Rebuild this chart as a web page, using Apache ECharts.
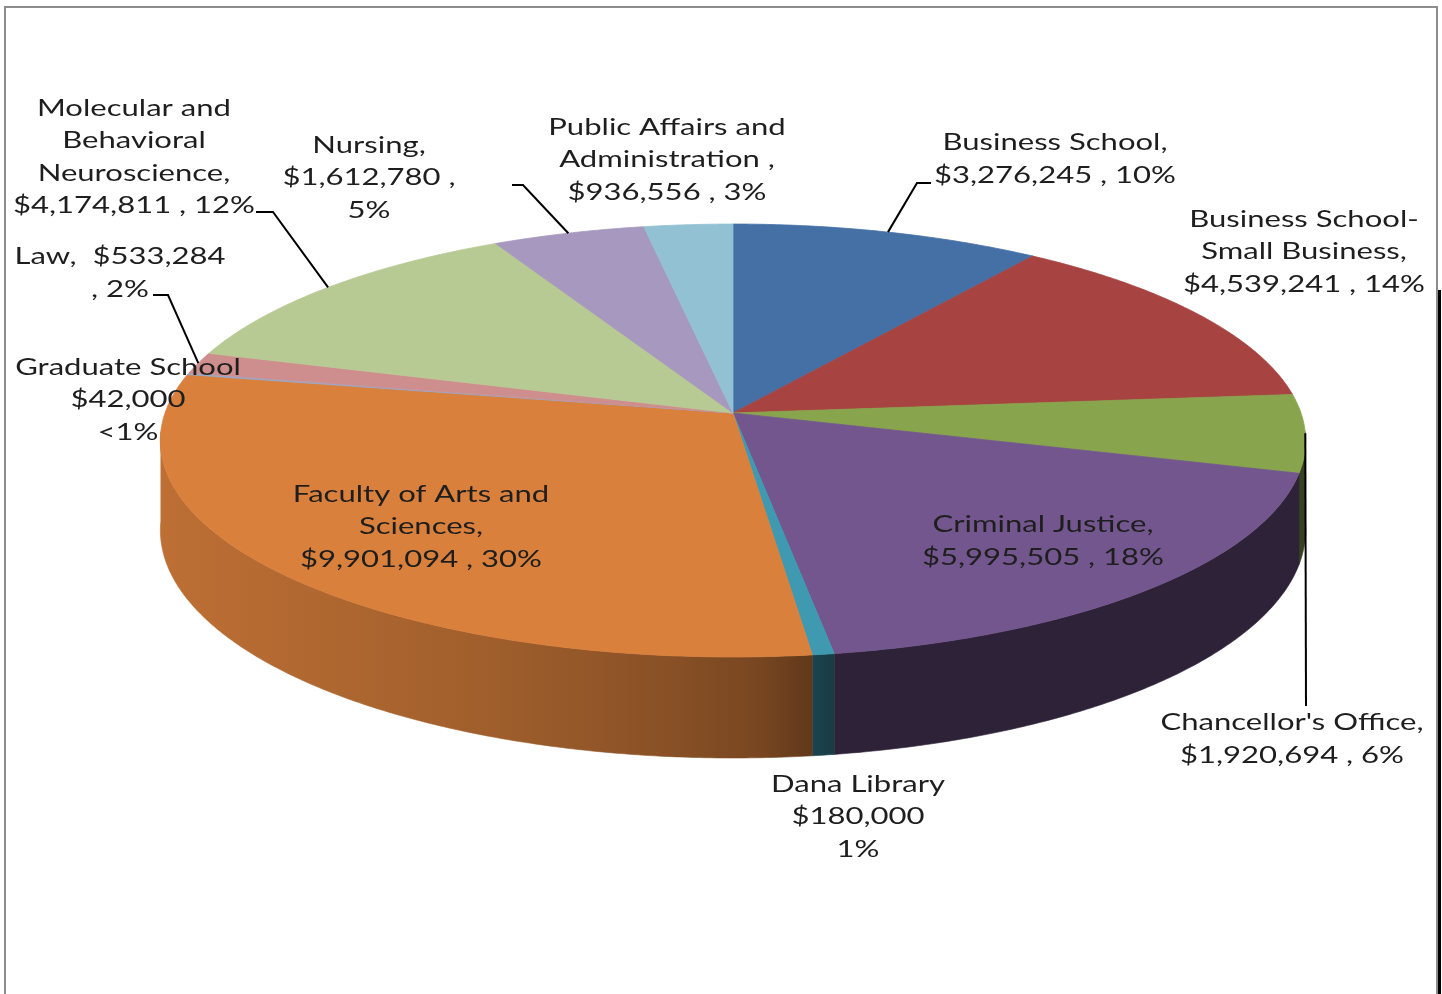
<!DOCTYPE html>
<html lang="en">
<head>
    <meta charset="utf-8">
    <title>Budget by unit</title>
    <script src="https://cdn.jsdelivr.net/npm/echarts@6/dist/echarts.min.js"></script>
</head>
<body style="margin:0;background:#fff;">
<div id="main" style="width:1442px;height:994px;"></div>
<script type="text/javascript">
    // slices, clockwise from 12 o'clock
    var categories = ['Business School', 'Business School-Small Business', "Chancellor's Office",
        'Criminal Justice', 'Dana Library', 'Faculty of Arts and Sciences', 'Graduate School',
        'Law', 'Molecular and Behavioral Neuroscience', 'Nursing', 'Public Affairs and Administration'];
    var amounts = [3276245, 4539241, 1920694, 5995505, 180000, 9901094, 42000, 533284, 4174811, 1612780, 936556];
    var pctLabels = ['10%', '14%', '6%', '18%', '1%', '30%', '<1%', '2%', '12%', '5%', '3%'];
    var labelFormats = [
        'Business School,\n{v} , {p}',
        'Business School-\nSmall Business,\n{v} , {p}',
        "Chancellor's Office,\n{v} , {p}",
        'Criminal Justice,\n{v} , {p}',
        'Dana Library\n{v}\n{p}',
        'Faculty of Arts and\nSciences,\n{v} , {p}',
        'Graduate School\n{v}\n{p}',
        'Law,  {v}\n, {p}',
        'Molecular and\nBehavioral\nNeuroscience,\n{v} , {p}',
        'Nursing,\n{v} ,\n{p}',
        'Public Affairs and\nAdministration ,\n{v} , {p}'
    ];

    var colors = ['#4470A6', '#A74442', '#88A44D', '#72568D', '#3F99B1', '#D9803C',
        '#93A9CF', '#CF8E8E', '#B8CA93', '#A698BE', '#92C1D3'];

    // label placement (block centre) and leader line elbows
    var labelPos = [[1055, 159], [1304, 252], [1292, 739], [1043, 541], [858, 817], [421, 527],
        [128, 400], [120, 273], [134, 157], [369, 178], [667, 160]];
    var leaders = {0: [[917, 183], [931, 183]], 2: [[1306, 706]], 7: [[168, 295], [153, 295]],
        8: [[273, 212], [256, 212]], 9: [[523, 185], [512, 185]]};

    // perspective view of the disc
    var cx = 733, cy = 413, A = 4470, B = 1676, D = 7.87, H = 694;
    var FONT = '23px Lato', SX = 1.35;

    var total = amounts.reduce(function (a, b) { return a + b; }, 0);
    var starts = [], acc = 0;
    amounts.forEach(function (v) { starts.push(acc / total * Math.PI * 2); acc += v; });

    function pt(t, drop) {
        var u = Math.sin(t), v = -Math.cos(t), d = D - v;
        return [cx + A * u / d, cy + (B * v + (drop ? H : 0)) / d];
    }
    function shade(hex, f) {
        var n = parseInt(hex.slice(1), 16);
        var r = Math.round(((n >> 16) & 255) * f), g = Math.round(((n >> 8) & 255) * f), b = Math.round((n & 255) * f);
        return 'rgb(' + r + ',' + g + ',' + b + ')';
    }
    // side gets darker from left to front-right
    function sideFill(col) {
        var stops = [0, 0.25, 0.5, 0.75, 0.9, 1].map(function (o) {
            return {offset: o, color: shade(col, 0.4 + 0.47 * Math.sqrt(1 - o))};
        });
        return new echarts.graphic.LinearGradient(160, 0, 830, 0, stops, true);
    }
    function money(v) {
        return '$' + String(v).replace(/\B(?=(\d{3})+(?!\d))/g, ',');
    }

    function renderItem(params, api) {
        var i = params.dataIndex;
        var a0 = starts[i], a1 = a0 + api.value(0) / total * Math.PI * 2;
        var col = colors[i];
        var kids = [];
        var k;

        // top face
        var pts = [[cx, cy]];
        var n = Math.max(2, Math.ceil((a1 - a0) / (Math.PI / 360)));
        for (k = 0; k <= n; k++) pts.push(pt(a0 + (a1 - a0) * k / n));
        kids.push({type: 'polygon', shape: {points: pts}, z2: 5,
            style: {fill: col, stroke: col, lineWidth: 0.8}});

        // visible rim (front, between the silhouettes)
        var lo = Math.max(a0, 95 * Math.PI / 180), hi = Math.min(a1, 265 * Math.PI / 180);
        if (lo < hi) {
            var m = Math.max(2, Math.ceil((hi - lo) / (Math.PI / 360)));
            var topArc = [], botArc = [];
            for (k = 0; k <= m; k++) {
                var t = lo + (hi - lo) * k / m;
                topArc.push(pt(t));
                botArc.unshift(pt(t, true));
            }
            var g = sideFill(col);
            kids.push({type: 'polygon', shape: {points: topArc.concat(botArc)}, z2: 1,
                style: {fill: g, stroke: g, lineWidth: 0.6}});
        }

        // leader line from the middle of the slice
        if (leaders[i]) {
            var lp = [pt((a0 + a1) / 2)].concat(leaders[i]);
            kids.push({type: 'polyline', shape: {points: lp}, z2: 8,
                style: {stroke: '#000', lineWidth: 2, fill: null}});
        }

        var txt = labelFormats[i].replace('{v}', money(api.value(0))).replace('{p}', pctLabels[i]);
        kids.push({type: 'text', x: labelPos[i][0], y: labelPos[i][1], scaleX: SX, z2: 10,
            style: {text: txt, font: FONT, fill: '#1e1e1e', align: 'center', verticalAlign: 'middle', lineHeight: 32.5}});

        return {type: 'group', children: kids};
    }

    var myChart = echarts.init(document.getElementById('main'));
    var option = {
        animation: false,
        backgroundColor: '#fff',
        graphic: [
            {type: 'rect', shape: {x: 5, y: 7, width: 1432, height: 995}, z: 0,
                style: {fill: null, stroke: '#8c8c8c', lineWidth: 2}},
            {type: 'line', shape: {x1: 1439.5, y1: 290, x2: 1439.5, y2: 994}, z: 0,
                style: {stroke: '#000', lineWidth: 3}}
        ],
        series: [{
            type: 'custom',
            coordinateSystem: 'none',
            silent: true,
            renderItem: renderItem,
            data: amounts.map(function (v, i) { return {name: categories[i], value: [v]}; })
        }]
    };
    myChart.setOption(option);
</script>
</body>
</html>
